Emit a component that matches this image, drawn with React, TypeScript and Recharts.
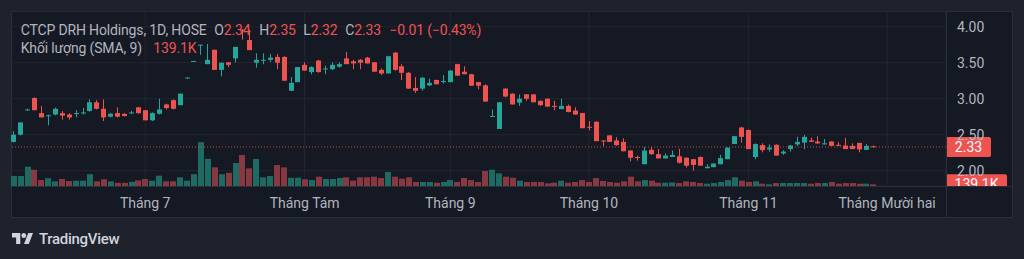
import React from 'react';
import { ComposedChart, Bar, XAxis, YAxis, CartesianGrid, ReferenceLine } from 'recharts';

// daily candles (price in VND thousand)
const opens = [
  2.40, 2.50, 2.84, 3.01, 2.80, 2.76, 2.78, 2.80, 2.78, 2.79,
  2.80, 2.83, 2.95, 2.86, 2.75, 2.80, 2.79, 2.80, 2.88, 2.84,
  2.70, 2.79, 2.92, 2.98, 2.91, 3.28, 3.51, 3.74, 3.48, 3.68,
  3.40, 3.505, 3.56, 3.96, 3.815, 3.50, 3.535, 3.54, 3.58, 3.58,
  3.11, 3.23, 3.47, 3.37, 3.53, 3.41, 3.41, 3.445, 3.56, 3.52,
  3.54, 3.57, 3.505, 3.40, 3.35, 3.64, 3.45, 3.36, 3.15, 3.14,
  3.185, 3.26, 3.23, 3.23, 3.48, 3.375, 3.34, 3.23, 3.185, 2.755,
  2.58, 3.14, 3.07, 2.945, 3.06, 3.06, 2.97, 3.00, 2.90, 2.855,
  2.90, 2.835, 2.80, 2.61, 2.68, 2.42, 2.49, 2.42, 2.40, 2.28,
  2.19, 2.09, 2.29, 2.23, 2.17, 2.19, 2.20, 2.18, 2.16, 2.19,
  2.035, 2.05, 2.09, 2.16, 2.37, 2.60, 2.565, 2.19, 2.355, 2.295,
  2.36, 2.24, 2.30, 2.365, 2.39, 2.42, 2.405, 2.365, 2.405, 2.36,
  2.35, 2.345, 2.385, 2.29, 2.34,
];
const highs = [
  2.55, 2.67, 2.86, 3.02, 2.90, 2.78, 2.875, 2.83, 2.80, 2.84,
  2.87, 2.99, 2.98, 2.99, 2.80, 2.88, 2.80, 2.83, 2.885, 2.845,
  2.81, 3.00, 2.93, 2.99, 3.07, 3.28, 3.51, 3.75, 3.76, 3.68,
  3.50, 3.51, 3.72, 3.965, 3.96, 3.63, 3.63, 3.62, 3.62, 3.59,
  3.30, 3.44, 3.505, 3.45, 3.54, 3.46, 3.505, 3.505, 3.65, 3.54,
  3.55, 3.58, 3.51, 3.42, 3.59, 3.65, 3.48, 3.37, 3.30, 3.30,
  3.28, 3.265, 3.33, 3.40, 3.485, 3.45, 3.345, 3.235, 3.20, 2.85,
  2.95, 3.145, 3.075, 3.06, 3.065, 3.065, 2.975, 3.005, 2.97, 3.00,
  2.92, 2.88, 2.805, 2.69, 2.685, 2.425, 2.495, 2.465, 2.45, 2.285,
  2.21, 2.33, 2.33, 2.30, 2.24, 2.28, 2.305, 2.185, 2.165, 2.20,
  2.09, 2.10, 2.22, 2.325, 2.48, 2.61, 2.57, 2.38, 2.38, 2.365,
  2.365, 2.285, 2.355, 2.47, 2.495, 2.46, 2.48, 2.44, 2.41, 2.395,
  2.455, 2.38, 2.39, 2.37, 2.35,
];
const lows = [
  2.39, 2.49, 2.835, 2.84, 2.74, 2.63, 2.77, 2.71, 2.71, 2.74,
  2.78, 2.82, 2.85, 2.69, 2.74, 2.74, 2.75, 2.79, 2.79, 2.70,
  2.69, 2.78, 2.85, 2.85, 2.91, 3.28, 3.51, 3.61, 3.48, 3.40,
  3.31, 3.44, 3.505, 3.82, 3.675, 3.43, 3.48, 3.51, 3.41, 3.25,
  3.11, 3.23, 3.39, 3.34, 3.36, 3.34, 3.40, 3.43, 3.48, 3.41,
  3.41, 3.49, 3.375, 3.33, 3.35, 3.39, 3.26, 3.14, 3.08, 3.11,
  3.175, 3.20, 3.21, 3.23, 3.32, 3.34, 3.18, 3.13, 2.96, 2.75,
  2.58, 3.02, 2.92, 2.90, 2.97, 2.95, 2.90, 2.89, 2.84, 2.855,
  2.81, 2.78, 2.59, 2.56, 2.41, 2.34, 2.40, 2.345, 2.27, 2.13,
  2.14, 2.09, 2.22, 2.17, 2.17, 2.19, 2.10, 2.045, 2.00, 2.07,
  2.03, 2.045, 2.09, 2.16, 2.37, 2.39, 2.30, 2.16, 2.255, 2.265,
  2.21, 2.22, 2.265, 2.345, 2.30, 2.40, 2.37, 2.365, 2.345, 2.345,
  2.30, 2.30, 2.255, 2.29, 2.32,
];
const closes = [
  2.50, 2.67, 2.85, 2.84, 2.74, 2.77, 2.86, 2.765, 2.74, 2.80,
  2.81, 2.95, 2.86, 2.74, 2.79, 2.75, 2.76, 2.81, 2.80, 2.70,
  2.80, 2.85, 2.87, 2.86, 3.07, 3.28, 3.51, 3.75, 3.54, 3.40,
  3.50, 3.47, 3.72, 3.95, 3.675, 3.54, 3.54, 3.57, 3.50, 3.25,
  3.22, 3.44, 3.39, 3.44, 3.37, 3.42, 3.47, 3.48, 3.48, 3.49,
  3.50, 3.49, 3.375, 3.35, 3.59, 3.40, 3.36, 3.14, 3.11, 3.29,
  3.22, 3.20, 3.245, 3.39, 3.32, 3.34, 3.18, 3.18, 2.96, 2.76,
  2.95, 3.03, 2.92, 3.00, 3.00, 2.95, 2.91, 2.89, 2.89, 2.90,
  2.815, 2.78, 2.59, 2.60, 2.41, 2.415, 2.40, 2.355, 2.27, 2.18,
  2.185, 2.28, 2.23, 2.17, 2.21, 2.22, 2.11, 2.07, 2.08, 2.07,
  2.055, 2.10, 2.175, 2.32, 2.48, 2.47, 2.30, 2.37, 2.285, 2.32,
  2.21, 2.265, 2.35, 2.40, 2.47, 2.40, 2.38, 2.38, 2.345, 2.345,
  2.30, 2.30, 2.295, 2.345, 2.33,
];
// volume, thousands of shares
const volumes = [
  820, 820, 1580, 1340, 490, 640, 385, 575, 410, 435,
  435, 970, 385, 550, 385, 260, 260, 345, 460, 575,
  435, 845, 385, 385, 715, 435, 970, 3590, 2230, 1530,
  970, 1080, 1885, 2540, 1450, 2215, 715, 820, 1720, 1530,
  680, 680, 550, 490, 765, 575, 575, 655, 715, 435,
  715, 715, 765, 655, 1150, 765, 600, 715, 330, 330,
  330, 270, 330, 490, 330, 655, 490, 330, 1230, 1340,
  1040, 765, 680, 435, 330, 330, 330, 220, 270, 435,
  270, 330, 490, 330, 655, 410, 330, 270, 385, 765,
  385, 490, 435, 270, 270, 290, 245, 385, 330, 245,
  190, 245, 330, 490, 715, 435, 330, 385, 190, 140,
  245, 245, 245, 245, 245, 190, 245, 245, 330, 190,
  245, 245, 190, 190, 139.1,
];
const FUTURE_SLOTS = 10; // empty space right of the last candle
const monthTickIdx = [19, 42, 63, 83, 106, 126];
const monthLabels = ['Tháng 7', 'Tháng Tám', 'Tháng 9', 'Tháng 10', 'Tháng 11', 'Tháng Mười hai'];
const priceTicks = [2, 2.5, 3, 3.5, 4];

const UP = '#26a69a';
const DOWN = '#ef5350';
const UP_VOL = '#1e6b63';
const DOWN_VOL = '#873841';
const TEXT = '#b2b5be';
const LINE = '#2a2e39';

const CHART_H = 207;
const XAXIS_H = 32;
const PLOT_BOTTOM = CHART_H - XAXIS_H;

const rows = [];
for (let i = 0; i < opens.length + FUTURE_SLOTS; i++) {
  if (i < opens.length) {
    rows.push({ i, o: opens[i], h: highs[i], l: lows[i], c: closes[i], v: volumes[i] });
  } else {
    rows.push({ i });
  }
}

const last = rows[opens.length - 1];

function Candle(props) {
  const { x, y, width, height, payload } = props;
  if (!payload || payload.o == null) return <g />;
  const { o, h, l, c } = payload;
  const color = c >= o ? UP : DOWN;
  const top = Math.min(y, y + height);
  const hh = Math.abs(height);
  const ppu = h > l ? hh / (h - l) : 0;
  const bTop = top + (h - Math.max(o, c)) * ppu;
  const bH = Math.max(1, Math.abs(o - c) * ppu);
  let bw = Math.max(1, Math.round(width));
  if (bw % 2 === 0) bw -= 1;
  const bx = Math.round(x + width / 2 - bw / 2);
  return (
    <g>
      <rect x={bx + (bw - 1) / 2} y={top} width={1} height={Math.max(1, hh)} fill={color} />
      <rect x={bx} y={bTop} width={bw} height={bH} fill={color} />
    </g>
  );
}

function VolBar(props) {
  const { x, y, width, height, payload } = props;
  if (!payload || payload.v == null) return <g />;
  const color = payload.c >= payload.o ? UP_VOL : DOWN_VOL;
  const bx = Math.round(x);
  const bw = Math.max(1, Math.round(x + width) - bx);
  return <rect x={bx} y={y} width={bw} height={height} fill={color} />;
}

function Tag({ viewBox, text, w, clipBottom }) {
  if (!viewBox) return null;
  const x = viewBox.x + viewBox.width;
  const cy = viewBox.y;
  const id = 'clip-' + text.replace(/[^a-z0-9]/gi, '');
  return (
    <g>
      {clipBottom != null && (
        <defs>
          <clipPath id={id}>
            <rect x={x} y={cy - 12} width={w + 2} height={clipBottom - (cy - 12)} />
          </clipPath>
        </defs>
      )}
      <g clipPath={clipBottom != null ? `url(#${id})` : undefined}>
        <rect x={x} y={cy - 10} width={w} height={20} rx={2} fill={DOWN} />
        <text x={x + w / 2} y={cy} dy="0.355em" textAnchor="middle" fill="#ffffff" fontSize={14}>
          {text}
        </text>
      </g>
    </g>
  );
}

const legendRow = { position: 'absolute', left: 0, fontSize: 14, lineHeight: '14px', color: TEXT, whiteSpace: 'nowrap', letterSpacing: -0.15 };

export default function App() {
  return (
    <div
      style={{
        position: 'fixed', left: 0, top: 0, width: 1024, height: 259,
        background: '#1e222d', fontFamily: 'Roboto, sans-serif', overflow: 'hidden',
      }}
    >
      <div
        style={{
          position: 'absolute', left: 11, top: 11, width: 1002, height: 207,
          boxSizing: 'border-box', border: `1px solid ${LINE}`, background: '#151924',
        }}
      />
      <div style={{ position: 'absolute', left: 10 }}>
        <div style={{ position: 'absolute', top: 11 }}>
          <ComposedChart width={1003} height={CHART_H} data={rows} margin={{ top: 0, right: 0, bottom: 0, left: 0 }}>
            <CartesianGrid stroke="#222631" xAxisId="price" yAxisId="price" />
            <XAxis
              xAxisId="price"
              dataKey="i"
              type="category"
              ticks={monthTickIdx}
              interval={0}
              height={XAXIS_H}
              tickFormatter={(v) => monthLabels[monthTickIdx.indexOf(v)] ?? ''}
              axisLine={false}
              tickLine={false}
              tickSize={0}
              tickMargin={12}
              tick={{ fill: TEXT, fontSize: 14 }}
            />
            <XAxis xAxisId="vol" dataKey="i" type="category" hide />
            <YAxis
              yAxisId="price"
              orientation="right"
              width={67}
              domain={[1.7875, 4.218]}
              allowDataOverflow
              ticks={priceTicks}
              tickFormatter={(v) => v.toFixed(2)}
              axisLine={false}
              tickLine={false}
              tickSize={0}
              tickMargin={11}
              tick={{ fill: TEXT, fontSize: 14 }}
            />
            <YAxis yAxisId="vol" orientation="right" domain={[0, 14350]} hide />
            <Bar
              xAxisId="vol"
              yAxisId="vol"
              dataKey="v"
              barCategoryGap="6%"
              shape={VolBar}
              isAnimationActive={false}
            />
            <Bar
              xAxisId="price"
              yAxisId="price"
              dataKey={(d) => (d.o == null ? null : [d.l, d.h])}
              barCategoryGap="12%"
              minPointSize={1}
              shape={Candle}
              isAnimationActive={false}
            />
            <ReferenceLine
              xAxisId="price"
              yAxisId="price"
              y={last.c}
              stroke={DOWN}
              strokeOpacity={0.8}
              strokeDasharray="1 2"
              label={(p) => <Tag viewBox={p.viewBox} text={last.c.toFixed(2)} w={45} />}
            />
            <ReferenceLine
              xAxisId="vol"
              yAxisId="vol"
              y={last.v}
              stroke="none"
              label={(p) => <Tag viewBox={p.viewBox} text={`${last.v.toFixed(1)}K`} w={61} clipBottom={PLOT_BOTTOM} />}
            />
          </ComposedChart>
        </div>
      </div>
      {/* pane separators */}
      <div style={{ position: 'absolute', left: 11, top: 186, width: 1002, height: 1, background: LINE }} />
      <div style={{ position: 'absolute', left: 946, top: 11, width: 1, height: 207, background: LINE }} />

      {/* legend */}
      <div style={{ ...legendRow, top: 22.5 }}>
        <span style={{ position: 'absolute', left: 20.7 }}>CTCP DRH Holdings, 1D, HOSE</span>
        <span style={{ position: 'absolute', left: 214.3 }}>O<span style={{ color: DOWN }}>{last.o.toFixed(2)}</span></span>
        <span style={{ position: 'absolute', left: 259.3 }}>H<span style={{ color: DOWN }}>{last.h.toFixed(2)}</span></span>
        <span style={{ position: 'absolute', left: 303.3 }}>L<span style={{ color: DOWN }}>{last.l.toFixed(2)}</span></span>
        <span style={{ position: 'absolute', left: 345.3 }}>C<span style={{ color: DOWN }}>{last.c.toFixed(2)}</span></span>
        <span style={{ position: 'absolute', left: 389.3, color: DOWN }}>−0.01 (−0.43%)</span>
      </div>
      <div style={{ ...legendRow, top: 41.2 }}>
        <span style={{ position: 'absolute', left: 20.7 }}>Khối lượng (SMA, 9)</span>
        <span style={{ position: 'absolute', left: 153.3, color: DOWN }}>{`${last.v.toFixed(1)}K`}</span>
      </div>

      {/* TradingView attribution */}
      <svg style={{ position: 'absolute', left: 11.5, top: 232.5 }} width={21} height={11.5} viewBox="0 4 35.5 18" preserveAspectRatio="none">
        <path d="M14 22H7V11H0V4h14v18zM28 22h-8l7.5-18h8L28 22z" fill="#d1d4dc" />
        <circle cx={20} cy={8} r={4} fill="#d1d4dc" />
      </svg>
      <div
        style={{
          position: 'absolute', left: 39, top: 231.7, fontSize: 15, lineHeight: '15px', fontWeight: 500,
          color: '#d1d4dc', letterSpacing: -0.3, whiteSpace: 'nowrap',
        }}
      >
        TradingView
      </div>
    </div>
  );
}
